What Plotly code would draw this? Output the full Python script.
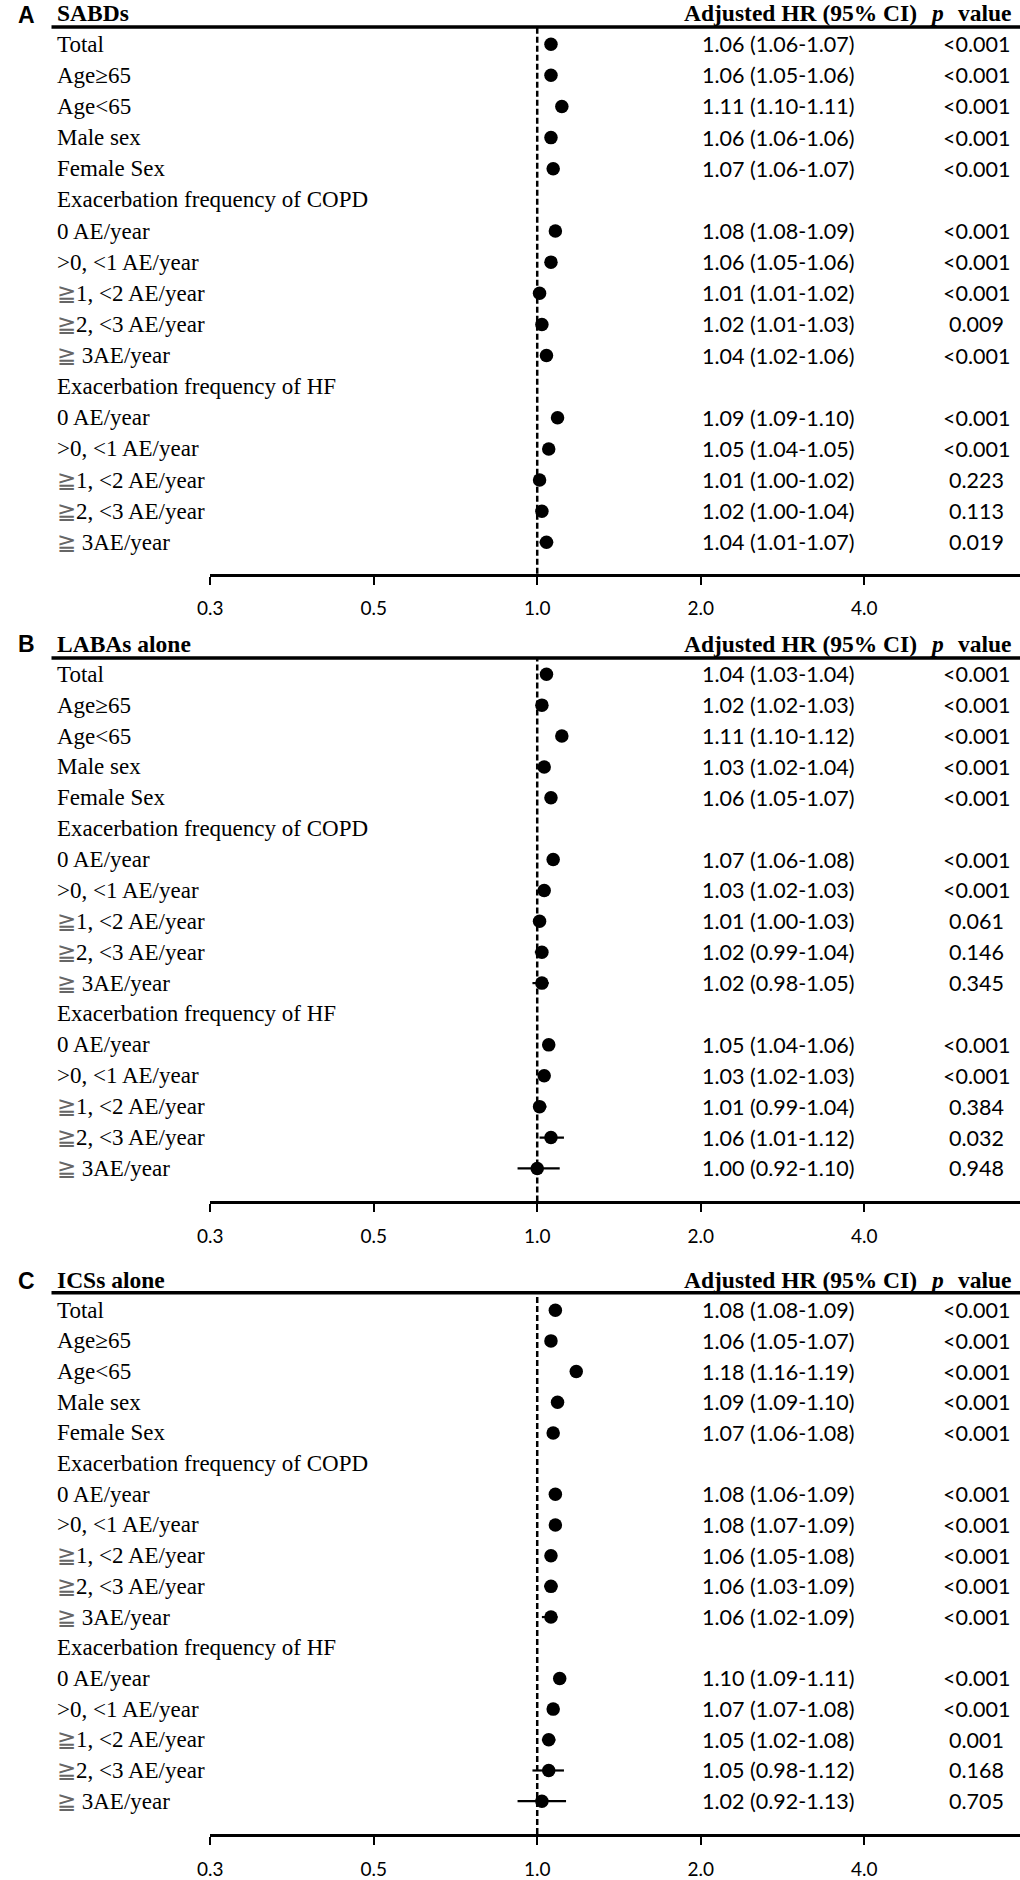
import math
import plotly.graph_objects as go

# ---------------- data ----------------
GE = "<span style='color:#666666'>≧</span>"
row_labels = [
    "Total", "Age≥65", "Age&lt;65", "Male sex", "Female Sex",
    "Exacerbation frequency of COPD",
    "0 AE/year", "&gt;0, &lt;1 AE/year", GE + "1, &lt;2 AE/year", GE + "2, &lt;3 AE/year", GE + " 3AE/year",
    "Exacerbation frequency of HF",
    "0 AE/year", "&gt;0, &lt;1 AE/year", GE + "1, &lt;2 AE/year", GE + "2, &lt;3 AE/year", GE + " 3AE/year",
]
data_rows = [0, 1, 2, 3, 4, 6, 7, 8, 9, 10, 12, 13, 14, 15, 16]

panel_letters = ["A", "B", "C"]
panel_titles = ["SABDs", "LABAs alone", "ICSs alone"]

sabd_hr = [1.06, 1.06, 1.11, 1.06, 1.07, 1.08, 1.06, 1.01, 1.02, 1.04, 1.09, 1.05, 1.01, 1.02, 1.04]
sabd_lo = [1.06, 1.05, 1.10, 1.06, 1.06, 1.08, 1.05, 1.01, 1.01, 1.02, 1.09, 1.04, 1.00, 1.00, 1.01]
sabd_hi = [1.07, 1.06, 1.11, 1.06, 1.07, 1.09, 1.06, 1.02, 1.03, 1.06, 1.10, 1.05, 1.02, 1.04, 1.07]
sabd_p = ["<0.001", "<0.001", "<0.001", "<0.001", "<0.001", "<0.001", "<0.001", "<0.001",
          "0.009", "<0.001", "<0.001", "<0.001", "0.223", "0.113", "0.019"]

laba_hr = [1.04, 1.02, 1.11, 1.03, 1.06, 1.07, 1.03, 1.01, 1.02, 1.02, 1.05, 1.03, 1.01, 1.06, 1.00]
laba_lo = [1.03, 1.02, 1.10, 1.02, 1.05, 1.06, 1.02, 1.00, 0.99, 0.98, 1.04, 1.02, 0.99, 1.01, 0.92]
laba_hi = [1.04, 1.03, 1.12, 1.04, 1.07, 1.08, 1.03, 1.03, 1.04, 1.05, 1.06, 1.03, 1.04, 1.12, 1.10]
laba_p = ["<0.001", "<0.001", "<0.001", "<0.001", "<0.001", "<0.001", "<0.001", "0.061",
          "0.146", "0.345", "<0.001", "<0.001", "0.384", "0.032", "0.948"]

ics_hr = [1.08, 1.06, 1.18, 1.09, 1.07, 1.08, 1.08, 1.06, 1.06, 1.06, 1.10, 1.07, 1.05, 1.05, 1.02]
ics_lo = [1.08, 1.05, 1.16, 1.09, 1.06, 1.06, 1.07, 1.05, 1.03, 1.02, 1.09, 1.07, 1.02, 0.98, 0.92]
ics_hi = [1.09, 1.07, 1.19, 1.10, 1.08, 1.09, 1.09, 1.08, 1.09, 1.09, 1.11, 1.08, 1.08, 1.12, 1.13]
ics_p = ["<0.001", "<0.001", "<0.001", "<0.001", "<0.001", "<0.001", "<0.001", "<0.001",
         "<0.001", "<0.001", "<0.001", "<0.001", "0.001", "0.168", "0.705"]

tick_vals = [0.25, 0.5, 1, 2, 4]
tick_text = ["0.3", "0.5", "1.0", "2.0", "4.0"]

# ---------------- layout geometry (pixels) ----------------
W, H = 1020, 1880
X_LEFT = 199.8
X_MAX = 7.744
geom = [
    dict(head=27.0, first=44.3, sp=31.2, axis=575.0, title_y=13.0, letter_y=15.0),
    dict(head=659.3, first=675.7, sp=30.95, axis=1204.0, title_y=645.0, letter_y=645.0),
    dict(head=1295.5, first=1313.0, sp=30.75, axis=1838.0, title_y=1283.0, letter_y=1284.0),
]
series = [
    (sabd_hr, sabd_lo, sabd_hi, sabd_p),
    (laba_hr, laba_lo, laba_hi, laba_p),
    (ics_hr, ics_lo, ics_hi, ics_p),
]

SERIF = "Liberation Serif, Times New Roman, serif"
SANS = "Lato, Open Sans, sans-serif"

def py(p):
    return 1 - p / H

def px(p):
    return p / W

fig = go.Figure()
annotations = []
shapes = []
layout_axes = {}

for k in range(3):
    g = geom[k]
    hr, lo, hi, pv = series[k]
    sfx = "" if k == 0 else str(k + 1)
    xa, ya = "x" + sfx, "y" + sfx

    fig.add_trace(go.Scatter(
        x=hr, y=data_rows, mode="markers", xaxis=xa, yaxis=ya,
        marker=dict(color="black", size=13.5, line=dict(width=0)),
        error_x=dict(type="data", symmetric=False,
                     array=[h - m for h, m in zip(hi, hr)],
                     arrayminus=[m - l for m, l in zip(hr, lo)],
                     color="black", thickness=2.2, width=0),
        showlegend=False, hoverinfo="skip", cliponaxis=False,
    ))

    layout_axes["xaxis" + sfx] = dict(
        type="log", domain=[px(X_LEFT), 1], range=[math.log10(0.25), math.log10(X_MAX)],
        anchor=ya, showline=True, linecolor="black", linewidth=2.5,
        ticks="outside", ticklen=8, tickwidth=2, tickcolor="black",
        tickmode="array", tickvals=tick_vals, ticktext=tick_text,
        tickfont=dict(family=SANS, size=19, color="black"),
        ticklabelstandoff=8, showgrid=False, zeroline=False, fixedrange=True,
    )
    layout_axes["yaxis" + sfx] = dict(
        domain=[py(g["axis"]), py(g["head"])],
        range=[(g["axis"] - g["first"]) / g["sp"], (g["head"] - g["first"]) / g["sp"]],
        visible=False, anchor=xa, fixedrange=True,
    )

    # reference line at HR = 1
    shapes.append(dict(type="line", xref=xa, yref=ya + " domain", x0=1, x1=1, y0=0, y1=1,
                       line=dict(color="black", width=2.5, dash="6px,3px")))
    # header rule
    shapes.append(dict(type="line", xref="paper", yref="paper", x0=px(39), x1=1,
                       y0=py(g["head"]), y1=py(g["head"]), line=dict(color="black", width=3.5)))

    # panel letter and headers
    annotations.append(dict(text="<b>%s</b>" % panel_letters[k], xref="paper", yref="paper",
                            x=px(3), y=py(g["letter_y"]), xanchor="left", yanchor="middle",
                            showarrow=False, font=dict(family="Liberation Sans, Arial, sans-serif", size=23, color="black")))
    annotations.append(dict(text="<b>%s</b>" % panel_titles[k], xref="paper", yref="paper",
                            x=px(43), y=py(g["title_y"]), xanchor="left", yanchor="middle",
                            showarrow=False, font=dict(family=SERIF, size=23.5, color="black")))
    annotations.append(dict(text="<b>Adjusted HR (95% CI)</b>", xref="paper", yref="paper",
                            x=px(797.5), y=py(g["title_y"]), xanchor="center", yanchor="middle",
                            showarrow=False, font=dict(family=SERIF, size=23.5, color="black")))
    annotations.append(dict(text="<b><i>p</i></b>", xref="paper", yref="paper",
                            x=px(927), y=py(g["title_y"]), xanchor="left", yanchor="middle",
                            showarrow=False, font=dict(family=SERIF, size=23.5, color="black")))
    annotations.append(dict(text="<b>value</b>", xref="paper", yref="paper",
                            x=px(955), y=py(g["title_y"]), xanchor="left", yanchor="middle",
                            showarrow=False, font=dict(family=SERIF, size=23.5, color="black")))

    # row labels
    for i, lab in enumerate(row_labels):
        annotations.append(dict(text=lab, xref="paper", yref=ya, x=px(43), y=i,
                                xanchor="left", yanchor="middle", showarrow=False,
                                font=dict(family=SERIF, size=23, color="black")))
    # HR text and p values
    for j, r in enumerate(data_rows):
        annotations.append(dict(text="%.2f (%.2f-%.2f)" % (hr[j], lo[j], hi[j]), xref="paper", yref=ya,
                                x=px(775), y=r, xanchor="center", yanchor="middle", showarrow=False,
                                font=dict(family=SANS, size=21.5, color="black")))
        annotations.append(dict(text=pv[j].replace("<", "&lt;"), xref="paper", yref=ya,
                                x=px(976), y=r, xanchor="center", yanchor="middle", showarrow=False,
                                font=dict(family=SANS, size=21.5, color="black")))

fig.update_layout(
    width=W, height=H, margin=dict(l=0, r=0, t=0, b=0),
    paper_bgcolor="white", plot_bgcolor="white",
    showlegend=False, annotations=annotations, shapes=shapes,
    **layout_axes,
)

fig.write_html(
    "out.html",
    config={"displayModeBar": False, "responsive": False},
    post_script="document.body.style.margin='0px';document.body.style.padding='0px';"
                "document.documentElement.style.overflow='hidden';document.body.style.overflow='hidden';",
)
